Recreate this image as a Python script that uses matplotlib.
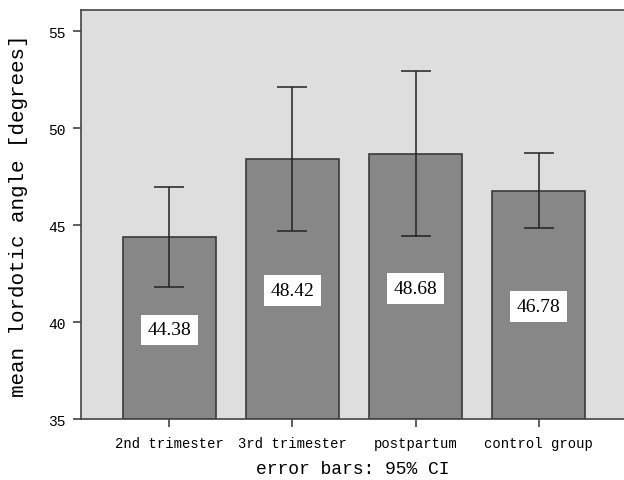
import matplotlib
matplotlib.use("Agg")
import matplotlib.pyplot as plt
import numpy as np

categories = ["2nd trimester", "3rd trimester", "postpartum", "control group"]
means = [44.38, 48.42, 48.68, 46.78]
ci_low = [41.79, 44.71, 44.42, 44.85]
ci_high = [46.95, 52.11, 52.95, 48.73]
yticks = [35, 40, 45, 50, 55]

fig = plt.figure(figsize=(6.24, 4.81), dpi=100)
ax = fig.add_axes([81/624, 61/481, 543/624, 408.7/481])
ax.set_facecolor("#dedede")

x = np.arange(1, len(categories) + 1)
base = 35
heights = [m - base for m in means]
ax.bar(x, heights, bottom=base, width=0.75, color="#878787",
       edgecolor="#3a3a3a", linewidth=1.2, zorder=2)
yerr = np.array([[m - l for m, l in zip(means, ci_low)],
                 [h - m for m, h in zip(means, ci_high)]])
ax.errorbar(x, means, yerr=yerr, fmt="none", ecolor="#222222",
            elinewidth=1.1, capsize=11, capthick=1.1, zorder=3)

for xi, m in zip(x, means):
    ax.text(xi, (m + base) / 2 - 0.1, f"{m:.2f}", ha="center", va="center",
            family="Liberation Serif", fontsize=14, color="black",
            bbox=dict(boxstyle="square,pad=0.35", fc="white", ec="none"),
            zorder=4)

ax.set_xlim(0.282, 4.694)
ax.set_ylim(35, 56.07)
ax.set_xticks(x)
ax.set_xticklabels(categories, family="Liberation Mono", fontsize=10)
ax.set_yticks(yticks)
ax.set_yticklabels([str(t) for t in yticks], family="Liberation Mono", fontsize=10.5)
ax.tick_params(axis="both", direction="out", length=6, width=1.1, color="#333333")
ax.tick_params(axis="x", pad=6)
ax.tick_params(axis="y", pad=5)

for s in ["left", "top", "bottom"]:
    ax.spines[s].set_color("#444444")
    ax.spines[s].set_linewidth(1.2)
ax.spines["right"].set_visible(False)

ax.set_ylabel("mean lordotic angle [degrees]", family="Liberation Mono", fontsize=15)
ax.yaxis.set_label_coords(-0.097, 0.5)
ax.set_xlabel("error bars: 95% CI", family="Liberation Mono", fontsize=13, va="center")
ax.xaxis.set_label_coords(0.5, -0.1223)

fig.savefig("out.png", dpi=100)
